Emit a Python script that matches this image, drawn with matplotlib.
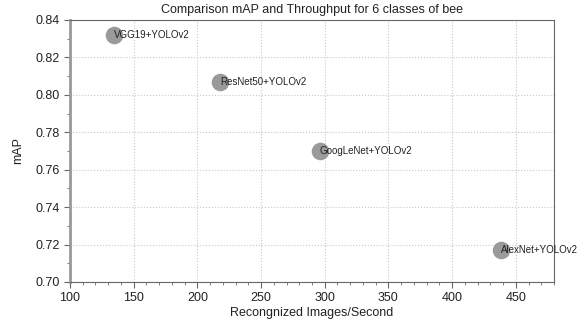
import numpy as np
import matplotlib.pyplot as plt
from matplotlib.ticker import MultipleLocator

models = ['VGG19+YOLOv2', 'ResNet50+YOLOv2', 'GoogLeNet+YOLOv2', 'AlexNet+YOLOv2']
throughput = [134.5, 218, 296, 438]
map_vals = [0.832, 0.807, 0.770, 0.717]

plt.rcParams['font.family'] = ['Liberation Sans', 'DejaVu Sans']

fig = plt.figure(figsize=(5.8, 3.22), dpi=100)
ax = fig.add_axes([70 / 580, 40 / 322, 484 / 580, 262 / 322])

ax.scatter(throughput, map_vals, s=160, color='#9a9a9a', linewidths=0, zorder=3)
for name, x, y in zip(models, throughput, map_vals):
    ax.text(x, y, name, fontsize=7, va='center', ha='left', color='#222222', zorder=4)

ax.set_xlim(100, 480)
ax.set_ylim(0.70, 0.84)
ax.xaxis.set_major_locator(MultipleLocator(50))
ax.xaxis.set_minor_locator(MultipleLocator(10))
ax.yaxis.set_major_locator(MultipleLocator(0.02))
ax.yaxis.set_minor_locator(MultipleLocator(0.01))
ax.yaxis.set_major_formatter(plt.FormatStrFormatter('%.2f'))
ax.grid(True, which='major', linestyle=':', color='#c8c8c8', linewidth=0.8)
ax.set_axisbelow(True)

for s in ['top', 'right', 'bottom']:
    ax.spines[s].set_color('#666666')
    ax.spines[s].set_linewidth(0.8)
ax.spines['left'].set_color('#999999')
ax.spines['left'].set_linewidth(2.0)

ax.tick_params(which='major', direction='out', length=4, width=0.8, color='#666666', labelsize=9, labelcolor='#222222')
ax.tick_params(which='minor', direction='out', length=2, width=0.6, color='#666666')

ax.set_title('Comparison mAP and Throughput for 6 classes of bee', fontsize=9, color='#222222', pad=5)
ax.set_xlabel('Recongnized Images/Second', fontsize=9, color='#222222', labelpad=2)
ax.set_ylabel('mAP', fontsize=9, color='#222222', labelpad=8)

fig.savefig('out.png', dpi=100)
